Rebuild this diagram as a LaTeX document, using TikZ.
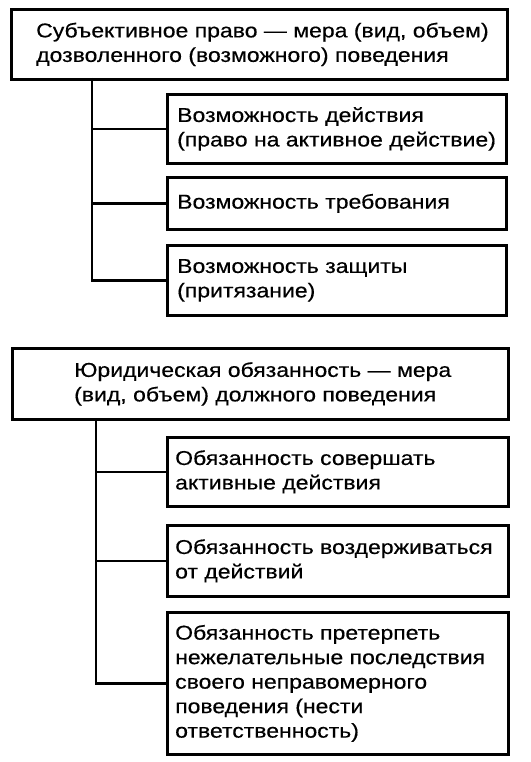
\documentclass[tikz,border=0pt]{standalone}
\usepackage{fontspec}
\setmainfont{Liberation Sans}[FakeStretch=1.15,FakeBold=0.4]
\begin{document}
\begin{tikzpicture}[x=1pt,y=-1pt,
  box/.style={draw, line width=2.7pt, anchor=north west, inner sep=0pt},
  txt/.style={anchor=west, align=left, inner sep=0pt,
    font=\fontsize{20}{24.5}\selectfont},
  conn/.style={line width=2.3pt}]
\useasboundingbox (0,0) rectangle (530,762);
% part 1
\node[box, minimum width=496pt, minimum height=70pt] (top1) at (10,8) {};
\node[txt] (top1t) at ([xshift=26pt]top1.west)
  {Субъективное право — мера (вид, объем)\\дозволенного (возможного) поведения};
\node[box, minimum width=339pt, minimum height=69pt] (a1) at (166,93) {};
\node[txt] (a1t) at ([xshift=11pt]a1.west)
  {Возможность действия\\(право на активное действие)};
\node[box, minimum width=339pt, minimum height=52pt] (a2) at (166,176) {};
\node[txt] (a2t) at ([xshift=11pt]a2.west) {Возможность требования};
\node[box, minimum width=339pt, minimum height=70pt] (a3) at (166,244) {};
\node[txt] (a3t) at ([xshift=11pt]a3.west)
  {Возможность защиты\\(притязание)};
\coordinate (r1) at (92,78);
\draw[conn] (r1) |- (a3.west);
\draw[conn] (r1 |- a1.west) -- (a1.west);
\draw[conn] (r1 |- a2.west) -- (a2.west);
% part 2
\node[box, minimum width=496pt, minimum height=71pt] (top2) at (11,347) {};
\node[txt] (top2t) at ([xshift=63pt]top2.west)
  {Юридическая обязанность — мера\\(вид, объем) должного поведения};
\node[box, minimum width=341pt, minimum height=69pt] (b1) at (166,436) {};
\node[txt] (b1t) at ([xshift=9pt]b1.west)
  {Обязанность совершать\\активные действия};
\node[box, minimum width=341pt, minimum height=71pt] (b2) at (166,524) {};
\node[txt] (b2t) at ([xshift=9pt]b2.west)
  {Обязанность воздерживаться\\от действий};
\node[box, minimum width=341pt, minimum height=142pt] (b3) at (166,611) {};
\node[txt] (b3t) at ([xshift=9pt]b3.west)
  {Обязанность претерпеть\\нежелательные последствия\\своего неправомерного\\поведения (нести\\ответственность)};
\coordinate (r2) at (96,418);
\draw[conn] (r2) |- (b3.west);
\draw[conn] (r2 |- b1.west) -- (b1.west);
\draw[conn] (r2 |- b2.west) -- (b2.west);
\end{tikzpicture}
\end{document}
